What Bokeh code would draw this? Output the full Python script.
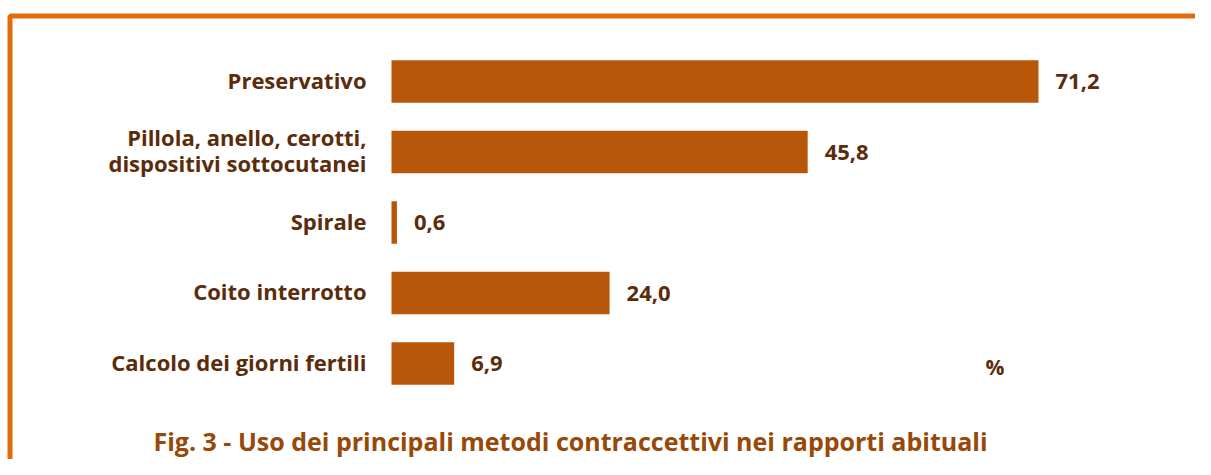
from bokeh.plotting import figure
from bokeh.models import Range1d, BoxAnnotation, Label, ColumnDataSource
from bokeh.core.properties import value
from bokeh.embed import file_html
from bokeh.resources import INLINE

# ---- data ----
categories = [
    "Preservativo",
    "Pillola, anello, cerotti,\ndispositivi sottocutanei",
    "Spirale",
    "Coito interrotto",
    "Calcolo dei giorni fertili",
]
values = [71.2, 45.8, 0.6, 24.0, 6.9]
value_labels = ["71,2", "45,8", "0,6", "24,0", "6,9"]
unit_label = "%"
title_text = "Fig. 3 - Uso dei principali metodi contraccettivi nei rapporti abituali"

# ---- layout / style ----
W, H = 1195, 459
px_per_unit = 9.087
zero_px = 391
row_px = 70.5
first_row_px = 81

BAR = "#B8570A"
TXT = "#5B2C0B"
TITLE = "#984807"
BORDER = "#E36C09"
FONT = value("Open Sans")

x_start = -zero_px / px_per_unit
x_end = x_start + W / px_per_unit
y_top = -first_row_px / row_px
y_bottom = y_top + H / row_px

src = ColumnDataSource(dict(
    idx=list(range(len(categories))),
    cat=categories,
    val=values,
    lab=value_labels,
))

p = figure(width=W, height=H,
           x_range=Range1d(x_start, x_end), y_range=Range1d(y_bottom, y_top),
           output_backend="svg", toolbar_location=None, min_border=0,
           x_axis_location=None, y_axis_location=None)
p.grid.visible = False
p.outline_line_color = None
p.background_fill_color = "white"
p.border_fill_color = "white"

# border frame (left and top visible)
p.add_layout(BoxAnnotation(
    left=x_start + 9.5 / px_per_unit, right=x_end + 10,
    top=y_top + 15.5 / row_px, bottom=y_bottom + 10,
    fill_alpha=0, line_color=BORDER, line_alpha=1.0, line_width=5))

p.hbar(y="idx", left=0, right="val", height=0.6, source=src,
       fill_color=BAR, line_color=None)

p.text(x=0, y="idx", text="cat", source=src, x_offset=-25, y_offset=-2,
       text_align="right", text_baseline="middle",
       text_font=FONT, text_font_style="bold", text_font_size="22px",
       text_color=TXT, text_line_height=0.84)

p.text(x="val", y="idx", text="lab", source=src, x_offset=17,
       text_align="left", text_baseline="middle",
       text_font=FONT, text_font_style="bold", text_font_size="22px",
       text_color=TXT)

p.add_layout(Label(x=985, y=93, x_units="screen", y_units="screen",
                   text=unit_label, text_align="left", text_baseline="middle",
                   text_font="Open Sans", text_font_style="bold",
                   text_font_size="21px", text_color=TXT))

p.add_layout(Label(x=570, y=19, x_units="screen", y_units="screen",
                   text=title_text, text_align="center",
                   text_baseline="alphabetic",
                   text_font="Open Sans", text_font_style="bold",
                   text_font_size="25px", text_color=TITLE))

open("out.html", "w").write(file_html(p, INLINE))
